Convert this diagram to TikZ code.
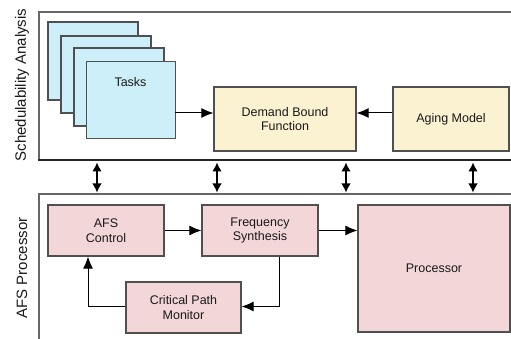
\documentclass[tikz,border=0pt]{standalone}
\usepackage{fontspec}
\setmainfont{Liberation Sans}
\usetikzlibrary{arrows.meta}
\definecolor{taskfill}{HTML}{CDEFFA}
\definecolor{analysisfill}{HTML}{FBF2D2}
\definecolor{procfill}{HTML}{F3D6D8}
\definecolor{boxline}{HTML}{505050}
\definecolor{frameline}{HTML}{666666}
\tikzset{
  block/.style={draw=boxline, line width=1.2pt, inner sep=0pt, align=center,
    font=\fontsize{12.5}{14.5}\selectfont, text=black!90},
  taskbox/.style={block, fill=taskfill},
  anbox/.style={block, fill=analysisfill},
  procbox/.style={block, fill=procfill},
  flow/.style={draw=black, line width=1pt, -{Latex[length=12pt,width=10pt]}},
  link/.style={draw=black, line width=1.2pt, {Latex[length=9pt,width=9.5pt]}-{Latex[length=9pt,width=9.5pt]}},
  frame/.style={draw=frameline, line width=1.2pt},
  sidelabel/.style={rotate=90, font=\fontsize{15}{18}\selectfont, text=black!90},
}
\begin{document}
\begin{tikzpicture}[x=1pt,y=-1pt]
\useasboundingbox (0,0) rectangle (511,339);

% Schedulability analysis frame
\draw[frame] (511,12) -- (39,12) -- (39,160);
\draw[draw=black!85, line width=1.8pt] (38.4,160) -- (511,160);
\node[sidelabel] (lsa) at (22,85) {Schedulability Analysis};

% Task stack
\node[taskbox, minimum width=90pt, minimum height=78pt] (t1) at (93,61) {};
\node[taskbox, minimum width=90pt, minimum height=77pt] (t2) at (106,74.5) {};
\node[taskbox, minimum width=90pt, minimum height=78pt] (t3) at (119,87) {};
\node[taskbox, minimum width=89pt, minimum height=77pt, anchor=north west] (tasks) at (86,61) {};
\node[font=\fontsize{12.5}{14.5}\selectfont, text=black!90] (tasklbl) at (130.5,82) {Tasks};

\node[anbox, minimum width=142pt, minimum height=64pt] (dbf) at (285,119) {Demand Bound\\Function};
\node[anbox, minimum width=116pt, minimum height=64pt] (aging) at (451,119) {Aging Model};

\draw[flow] (175,113) -- (dbf.west |- 0,113);
\draw[flow] (aging.west |- 0,113) -- (dbf.east |- 0,113);

% AFS processor frame
\draw[frame] (511,194) -- (39,194) -- (39,339);
\node[sidelabel] (lap) at (22,268) {AFS Processor};

\node[procbox, minimum width=116pt, minimum height=51pt] (afs) at (106,230.5) {AFS\\Control};
\node[procbox, minimum width=116pt, minimum height=51pt] (fs) at (260,230.5) {Frequency\\Synthesis};
\node[procbox, minimum width=152pt, minimum height=127pt] (proc) at (434,268.5) {Processor};
\node[procbox, minimum width=115pt, minimum height=51pt] (cpm) at (183.5,307.5) {Critical Path\\Monitor};

\draw[flow] (afs.east) -- (fs.west);
\draw[flow] (fs.east) -- (fs.east -| proc.west);
\draw[flow] (fs.south -| 279,0) -- (279,306.5) -- (cpm.east |- 0,306.5);
\draw[flow] (cpm.west |- 0,306.5) -- (88,306.5) -- (afs.south -| 88,0);

% Links between the two layers
\coordinate (a1) at (97,162.5);  \coordinate (b1) at (97,192.5);
\coordinate (a2) at (217,162.5); \coordinate (b2) at (217,192.5);
\coordinate (a3) at (346,162.5); \coordinate (b3) at (346,192.5);
\coordinate (a4) at (473,162.5); \coordinate (b4) at (473,192.5);
\draw[link] (a1) -- (b1);
\draw[link] (a2) -- (b2);
\draw[link] (a3) -- (b3);
\draw[link] (a4) -- (b4);
\end{tikzpicture}
\end{document}
